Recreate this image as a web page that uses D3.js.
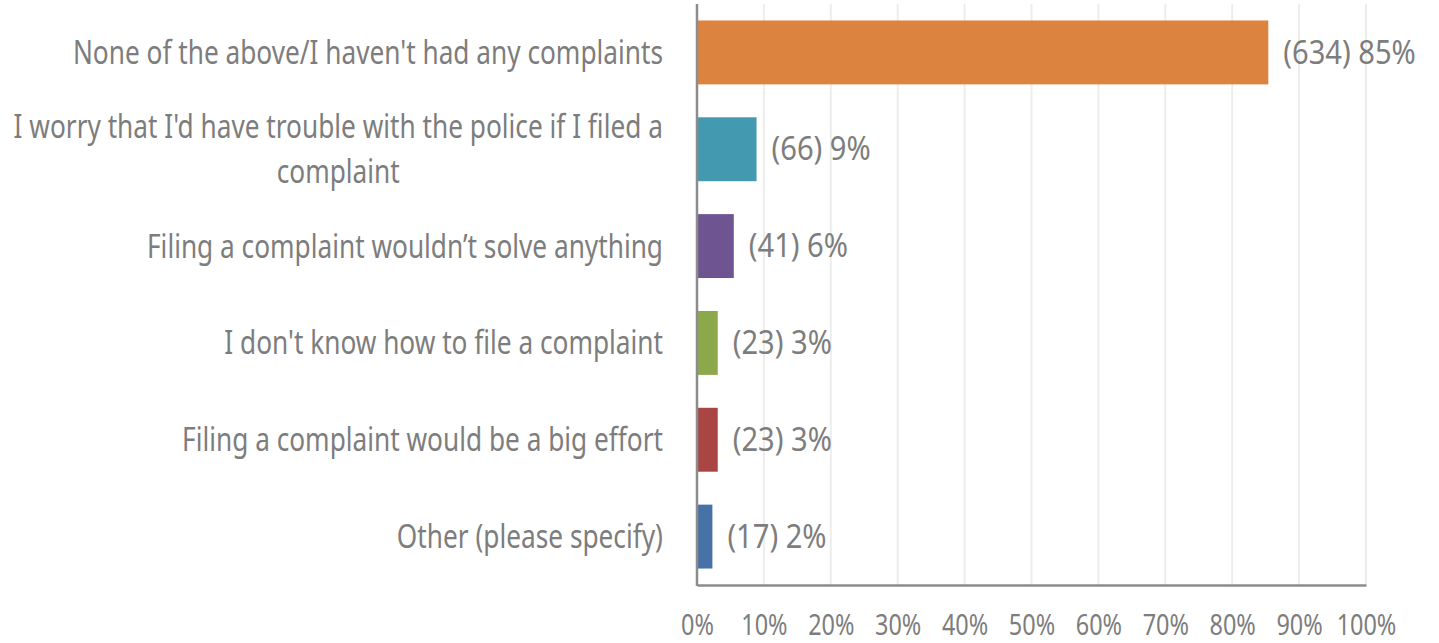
<!DOCTYPE html>
<html>
<head>
<meta charset="utf-8">
<script src="https://cdn.jsdelivr.net/npm/d3@7"></script>
<style>
  html, body { margin: 0; padding: 0; background: #fff; }
  svg text { font-family: "Noto Sans", sans-serif; fill: #7d7d7d; }
</style>
</head>
<body>
<svg id="chart" width="1439" height="643"></svg>
<script>
const categories = [
  "None of the above/I haven't had any complaints",
  "I worry that I'd have trouble with the police if I filed a complaint",
  "Filing a complaint wouldn\u2019t solve anything",
  "I don't know how to file a complaint",
  "Filing a complaint would be a big effort",
  "Other (please specify)"
];
const counts = [634, 66, 41, 23, 23, 17];
const percents = [85.4, 8.9, 5.5, 3.1, 3.1, 2.3];
const percentLabels = ["85%", "9%", "6%", "3%", "3%", "2%"];
const colors = ["#DC843F", "#4299B0", "#6E5491", "#8BA84A", "#A94643", "#4672A8"];
const tickValues = [0, 10, 20, 30, 40, 50, 60, 70, 80, 90, 100];

const svg = d3.select("#chart");
const margin = { left: 697, right: 73, top: 4, bottom: 58 };
const W = 1439, H = 643;
const SX = 0.795;    // horizontal condensing of the font
const SXV = 0.91;    // condensing of value labels

const x = d3.scaleLinear().domain([0, 100]).range([margin.left, W - margin.right]);
const y = d3.scaleBand().domain(categories).range([margin.top, H - margin.bottom]).paddingInner(0.34).paddingOuter(0.17);

// gridlines
svg.append("g").selectAll("line").data(tickValues.slice(1)).join("line")
  .attr("x1", d => x(d)).attr("x2", d => x(d))
  .attr("y1", margin.top).attr("y2", H - margin.bottom)
  .attr("stroke", "#ededed").attr("stroke-width", 2);

// bars
svg.append("g").selectAll("rect").data(categories).join("rect")
  .attr("x", x(0)).attr("y", d => y(d))
  .attr("width", (d, i) => x(percents[i]) - x(0))
  .attr("height", y.bandwidth())
  .attr("fill", (d, i) => colors[i]);

// x axis
const xAxis = svg.append("g").attr("transform", `translate(0,${H - margin.bottom})`)
  .call(d3.axisBottom(x).tickValues(tickValues).tickFormat(d => d + "%").tickSize(0).tickPadding(29));
xAxis.select(".domain").attr("stroke", "#8c8c8c").attr("stroke-width", 2.5);
xAxis.selectAll("text").style("font-size", "29.5px").attr("fill", "#7d7d7d")
  .attr("transform", `scale(${SX},1)`);

// y axis line
svg.append("line").attr("x1", x(0)).attr("x2", x(0))
  .attr("y1", margin.top).attr("y2", H - margin.bottom + 1)
  .attr("stroke", "#8c8c8c").attr("stroke-width", 2.5);

// category labels with wrapping
const labelX = x(0) - 34;
const maxW = 660;
const lg = svg.append("g");
const probe = lg.append("text").style("font-size", "33px");
const measure = s => { probe.text(s); return probe.node().getComputedTextLength() * SX; };
categories.forEach((c, i) => {
  const words = c.split(" ");
  let lines = [], cur = [];
  words.forEach(w => {
    cur.push(w);
    if (measure(cur.join(" ")) > maxW && cur.length > 1) {
      cur.pop(); lines.push(cur.join(" ")); cur = [w];
    }
  });
  lines.push(cur.join(" "));
  const maxLine = d3.max(lines, measure);
  const cy = y(c) + y.bandwidth() / 2;
  const lh = 45;
  const multi = lines.length > 1;
  const gx = multi ? labelX - maxLine / 2 : labelX;
  const t = lg.append("g").attr("transform", `translate(${gx},${cy}) scale(${SX},1)`)
    .append("text")
    .attr("text-anchor", multi ? "middle" : "end")
    .style("font-size", "33px");
  lines.forEach((l, k) => {
    t.append("tspan").attr("x", 0)
      .attr("y", (k - (lines.length - 1) / 2) * lh)
      .attr("dy", "0.35em")
      .text(l);
  });
});
probe.remove();

// value labels
svg.append("g").selectAll("g").data(categories).join("g")
  .attr("transform", (d, i) => `translate(${x(percents[i]) + 15},${y(d) + y.bandwidth() / 2}) scale(${SXV},1)`)
  .append("text")
  .attr("dy", "0.35em")
  .style("font-size", "32px")
  .text((d, i) => `(${counts[i]}) ${percentLabels[i]}`);
</script>
</body>
</html>
